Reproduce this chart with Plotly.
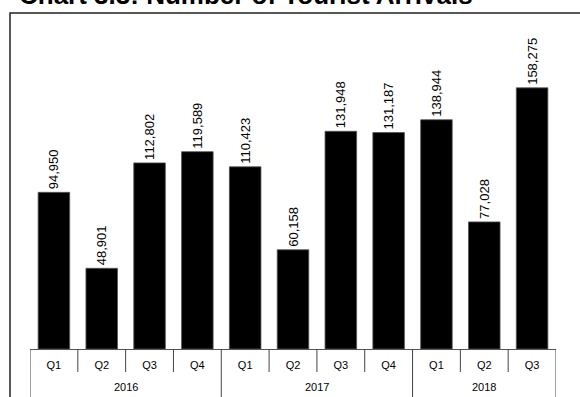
import plotly.graph_objects as go

# Quarterly tourist arrivals
years = ["2016", "2016", "2016", "2016",
         "2017", "2017", "2017", "2017",
         "2018", "2018", "2018"]
quarters = ["Q1", "Q2", "Q3", "Q4",
            "Q1", "Q2", "Q3", "Q4",
            "Q1", "Q2", "Q3"]
arrivals = [94950, 48901, 112802, 119589,
            110423, 60158, 131948, 131187,
            138944, 77028, 158275]

FONT = "Arial, Liberation Sans, sans-serif"
W, H = 580, 397
L, R, T, B = 30, 24, 19, 48
pw, ph = W - L - R, H - T - B

ids = [f"{y} {q}" for y, q in zip(years, quarters)]

fig = go.Figure(
    go.Bar(
        x=ids,
        y=arrivals,
        width=0.66,
        marker=dict(color="#000000", line=dict(color="#555555", width=0.8)),
        texttemplate="%{y:,}",
        textposition="outside",
        textangle=-90,
        constraintext="none",
        textfont=dict(family=FONT, size=13, color="#000000"),
        cliponaxis=False,
        hoverinfo="skip",
    )
)

# frame around the chart area
fig.add_shape(
    type="rect", xref="paper", yref="paper",
    x0=(10 - L) / pw, x1=1.2,
    y0=-0.3, y1=1 + (T - 13) / ph,
    line=dict(color="#222222", width=1.5),
    fillcolor="rgba(0,0,0,0)", layer="below",
)

# quarter boundaries (short) and year dividers (long) under the axis
year_names = []
for y in years:
    if y not in year_names:
        year_names.append(y)
year_edges = [-0.5]
for yn in year_names:
    year_edges.append(year_edges[-1] + years.count(yn))

for i in range(len(ids) + 1):
    edge = i - 0.5
    long_line = edge in year_edges
    fig.add_shape(
        type="line", xref="x", yref="paper",
        x0=edge, x1=edge,
        y0=0, y1=-(48 if long_line else 23) / ph,
        line=dict(color="#444444", width=1),
    )

# year labels centred under each group of quarters
for k, yn in enumerate(year_names):
    fig.add_annotation(
        x=(year_edges[k] + year_edges[k + 1]) / 2, xref="x",
        y=-(38 / ph), yref="paper", yanchor="middle",
        text=yn, showarrow=False,
        font=dict(family=FONT, size=11, color="#000000"),
    )

fig.add_annotation(
    x=(17 - L) / pw, xref="paper", xanchor="left",
    y=1 + (T + 5) / ph, yref="paper", yanchor="middle",
    text="<b>Chart 3.3: Number of Tourist Arrivals</b>",
    showarrow=False,
    font=dict(family=FONT, size=26, color="#000000"),
)

fig.update_layout(
    width=W, height=H,
    margin=dict(l=L, r=R, t=T, b=B),
    paper_bgcolor="white", plot_bgcolor="white",
    showlegend=False,
    xaxis=dict(
        type="category",
        tickvals=ids, ticktext=quarters,
        showline=True, linecolor="#555555", linewidth=1,
        ticks="", ticklabelstandoff=6,
        tickfont=dict(family=FONT, size=11, color="#000000"),
        showgrid=False,
        range=[-0.5, len(ids) - 0.5],
    ),
    yaxis=dict(
        range=[0, 200000],
        visible=False, showgrid=False, zeroline=False,
    ),
)

fig.write_html("out.html")
